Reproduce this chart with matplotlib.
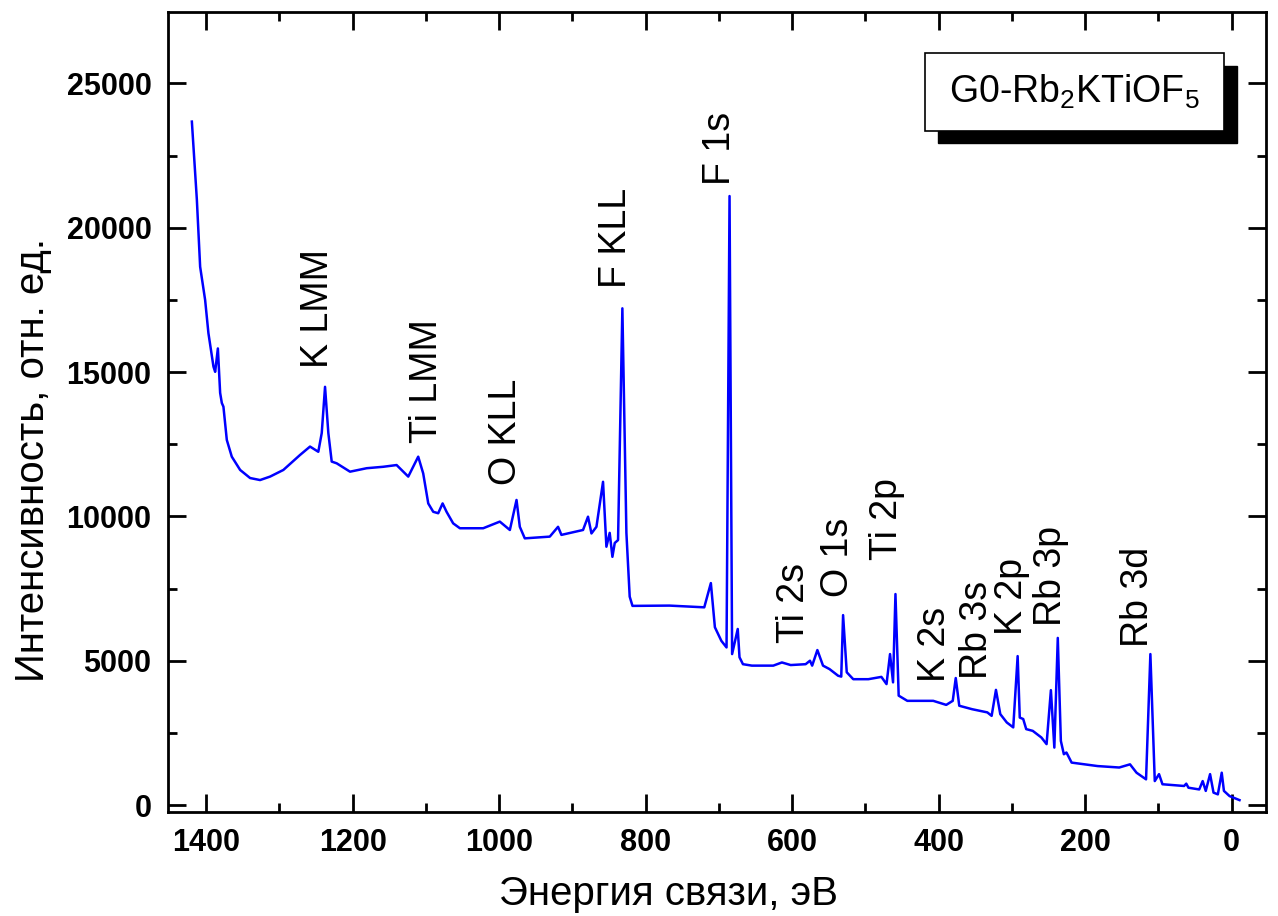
import numpy as np
import matplotlib.pyplot as plt
from matplotlib.patches import Rectangle

# XPS survey spectrum, binding energy (eV) vs intensity (arb. units)
energy = [1419.5, 1412.7, 1408.2, 1401.4, 1396.9, 1390.0, 1387.7, 1384.0, 1380.9, 1378.6,
          1376.4, 1371.8, 1365.0, 1353.6, 1340.0, 1326.4, 1312.7, 1294.6, 1271.8, 1258.2,
          1246.9, 1242.2, 1237.7, 1233.2, 1228.6, 1221.8, 1203.6, 1180.9, 1158.2, 1140.0,
          1124.1, 1110.5, 1103.7, 1096.8, 1090.0, 1083.2, 1077.2, 1071.8, 1062.8, 1053.6,
          1021.8, 999.1, 985.4, 976.3, 971.8, 965.0, 930.9, 919.6, 915.0, 885.5,
          878.7, 874.0, 867.2, 858.2, 853.6, 849.1, 845.4, 842.2, 837.7, 831.8,
          826.3, 821.8, 818.0, 767.5, 720.0, 711.0, 705.5, 696.7, 689.6, 685.5,
          682.0, 674.3, 671.9, 667.2, 655.0, 625.8, 614.0, 602.0, 581.6, 575.7,
          572.7, 565.6, 557.9, 549.0, 537.3, 533.0, 530.5, 525.5, 516.6, 496.0,
          478.2, 471.2, 466.4, 462.3, 459.0, 454.6, 442.8, 407.4, 389.7, 380.8,
          376.7, 371.9, 354.3, 333.6, 327.7, 321.8, 315.9, 307.0, 298.2, 292.2,
          289.3, 284.6, 280.5, 271.6, 259.8, 252.7, 246.8, 242.1, 237.4, 233.2,
          229.1, 225.6, 218.5, 183.0, 153.5, 138.8, 129.9, 116.9, 111.0, 105.0,
          99.2, 94.5, 65.0, 62.0, 59.0, 44.3, 39.6, 35.4, 29.5, 24.8,
          18.9, 13.6, 10.6, 2.9, -10.7]
counts = [23680, 20980, 18650, 17500, 16350, 15190, 15010, 15820, 14280, 13930,
          13800, 12650, 12070, 11610, 11330, 11260, 11380, 11610, 12130, 12420,
          12240, 12890, 14490, 12890, 11900, 11840, 11550, 11670, 11720, 11780,
          11380, 12070, 11490, 10450, 10160, 10110, 10450, 10160, 9760, 9590,
          9590, 9820, 9530, 10570, 9640, 9240, 9300, 9640, 9360, 9530,
          9990, 9410, 9640, 11200, 8950, 9430, 8600, 9080, 9180, 17210,
          9430, 7220, 6900, 6910, 6850, 7690, 6160, 5690, 5460, 21100,
          5230, 6100, 5120, 4880, 4830, 4830, 4940, 4850, 4880, 5000,
          4830, 5370, 4830, 4710, 4480, 4450, 6580, 4600, 4360, 4360,
          4440, 4190, 5230, 4250, 7310, 3790, 3610, 3610, 3470, 3610,
          4400, 3440, 3320, 3210, 3090, 3990, 3150, 2860, 2690, 5160,
          3030, 2980, 2630, 2570, 2340, 2110, 3980, 1990, 5790, 2220,
          1760, 1820, 1470, 1350, 1300, 1410, 1120, 890, 5230, 830,
          1070, 720, 660, 740, 600, 540, 830, 490, 1070, 430,
          370, 1120, 490, 310, 170]

# peak assignments and where their labels sit
peak_names = ['K LMM', 'Ti LMM', 'O KLL', 'F KLL', 'F 1s', 'Ti 2s', 'O 1s',
              'Ti 2p', 'K 2s', 'Rb 3s', 'K 2p', 'Rb 3p', 'Rb 3d']
peak_x = [1247, 1099, 990, 840, 699, 597, 538, 471, 405, 348, 300, 247, 128]
peak_y = [15140, 12540, 11090, 17910, 21480, 5610, 7210, 8490, 4260, 4370, 5890, 6200, 5470]

sample_name = 'G0-Rb$_2$KTiOF$_5$'

plt.rcParams['font.family'] = ['Liberation Sans', 'DejaVu Sans']
plt.rcParams['mathtext.fontset'] = 'custom'
plt.rcParams['mathtext.rm'] = 'Liberation Sans'
plt.rcParams['mathtext.it'] = 'Liberation Sans'

fig = plt.figure(figsize=(12.78, 9.16), dpi=100)
ax = fig.add_axes([0.1315, 0.1139, 0.8592, 0.8734])

ax.plot(energy, counts, color='#0000ff', lw=1.8)

ax.set_xlim(1452, -47)
ax.set_ylim(-230, 27490)
ax.set_xticks(np.arange(0, 1401, 200))
ax.set_xticks(np.arange(100, 1401, 200), minor=True)
ax.set_yticks(np.arange(0, 25001, 5000))
ax.set_yticks(np.arange(2500, 27500, 5000), minor=True)

for s in ax.spines.values():
    s.set_linewidth(2.0)
ax.tick_params(which='both', direction='in', top=True, right=True, width=2.0)
ax.tick_params(which='major', length=13, labelsize=22, pad=12)
ax.tick_params(which='minor', length=6.5)
for lab in ax.get_xticklabels() + ax.get_yticklabels():
    lab.set_fontweight('bold')

ax.set_xlabel('Энергия связи, эВ', fontsize=29)
ax.set_ylabel('Интенсивность, отн. ед.', fontsize=29)
ax.xaxis.set_label_coords(0.4554, -0.079)
ax.yaxis.set_label_coords(-0.106, 0.44)

for name, x, y in zip(peak_names, peak_x, peak_y):
    ax.text(x, y, name, rotation=90, ha='center', va='bottom', fontsize=27)

# sample name in a framed box with a drop shadow
bx0, bx1, by0, by1 = 0.6894, 0.9617, 0.851, 0.948
dx, dy = 0.0118, -0.0156
ax.add_patch(Rectangle((bx0 + dx, by0 + dy), bx1 - bx0, by1 - by0, transform=ax.transAxes,
                       facecolor='black', edgecolor='black', zorder=5, clip_on=False))
ax.add_patch(Rectangle((bx0, by0), bx1 - bx0, by1 - by0, transform=ax.transAxes,
                       facecolor='white', edgecolor='black', lw=1.2, zorder=6, clip_on=False))
ax.text((bx0 + bx1) / 2, (by0 + by1) / 2, sample_name, transform=ax.transAxes,
        ha='center', va='center', fontsize=27, zorder=7)

fig.savefig('out.png', dpi=100)
